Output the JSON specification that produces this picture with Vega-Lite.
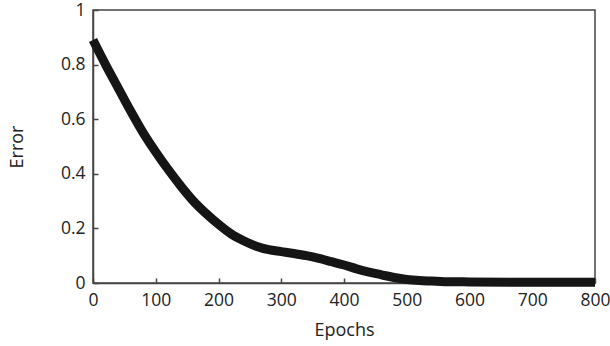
{
  "$schema": "https://vega.github.io/schema/vega-lite/v6.json",
  "autosize": "none",
  "width": 502,
  "height": 273,
  "padding": {"left": 93, "top": 10, "right": 15, "bottom": 63},
  "background": "white",
  "config": {
    "view": {"stroke": "#444", "strokeWidth": 1.5},
    "font": "Open Sans",
    "axis": {
      "grid": false,
      "domainColor": "#444",
      "domainWidth": 1.5,
      "tickColor": "#444",
      "tickWidth": 1.5,
      "tickSize": -5,
      "labelFont": "Open Sans",
      "labelFontSize": 17.5,
      "labelColor": "#222",
      "titleFont": "Open Sans",
      "titleFontSize": 18,
      "titleFontWeight": "normal",
      "titleColor": "#222"
    }
  },
  "data": {
    "values": [
      {"epoch": 0, "error": 0.89},
      {"epoch": 20, "error": 0.80},
      {"epoch": 40, "error": 0.715},
      {"epoch": 60, "error": 0.63},
      {"epoch": 80, "error": 0.55},
      {"epoch": 100, "error": 0.48},
      {"epoch": 120, "error": 0.415},
      {"epoch": 140, "error": 0.355},
      {"epoch": 160, "error": 0.30},
      {"epoch": 180, "error": 0.255},
      {"epoch": 200, "error": 0.215},
      {"epoch": 220, "error": 0.18},
      {"epoch": 240, "error": 0.155},
      {"epoch": 260, "error": 0.135},
      {"epoch": 280, "error": 0.122},
      {"epoch": 300, "error": 0.115},
      {"epoch": 320, "error": 0.108},
      {"epoch": 340, "error": 0.100},
      {"epoch": 360, "error": 0.090},
      {"epoch": 380, "error": 0.078},
      {"epoch": 400, "error": 0.066},
      {"epoch": 420, "error": 0.052},
      {"epoch": 440, "error": 0.040},
      {"epoch": 460, "error": 0.030},
      {"epoch": 480, "error": 0.020},
      {"epoch": 500, "error": 0.013},
      {"epoch": 520, "error": 0.009},
      {"epoch": 540, "error": 0.007},
      {"epoch": 560, "error": 0.005},
      {"epoch": 600, "error": 0.004},
      {"epoch": 700, "error": 0.003},
      {"epoch": 800, "error": 0.003}
    ]
  },
  "mark": {"type": "line", "color": "#151515", "strokeWidth": 9, "interpolate": "monotone", "clip": false},
  "encoding": {
    "x": {
      "field": "epoch", "type": "quantitative",
      "scale": {"domain": [0, 800], "nice": false},
      "axis": {"values": [0, 100, 200, 300, 400, 500, 600, 700, 800], "title": "Epochs", "labelPadding": 13, "titlePadding": 13, "labelFlush": false}
    },
    "y": {
      "field": "error", "type": "quantitative",
      "scale": {"domain": [0, 1], "nice": false},
      "axis": {"values": [0, 0.2, 0.4, 0.6, 0.8, 1], "format": ".1~f", "title": "Error", "labelPadding": 13, "titlePadding": 34, "labelFlush": false}
    }
  }
}
